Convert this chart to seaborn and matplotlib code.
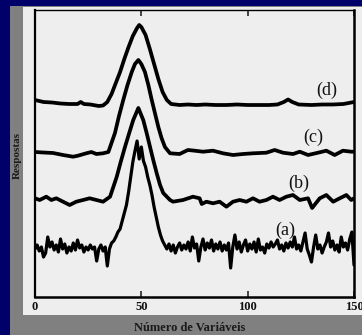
import numpy as np
import pandas as pd
import matplotlib
matplotlib.use("Agg")
import matplotlib.pyplot as plt
from matplotlib.patches import Rectangle
import seaborn as sns

# ---- data (responses, stacked with vertical offsets) ----
x_d = [0, 4, 8, 12, 16, 20, 21.5, 23, 26, 30, 32, 34, 36, 38, 40, 42, 44, 46, 48, 49, 50,
       52, 54, 56, 58, 60, 62, 64, 68, 72, 76, 80, 85, 90, 95, 100, 105, 110, 114, 117,
       119, 121, 124, 130, 135, 140, 145, 150]
y_d = [197, 195, 194.5, 193.5, 193, 193, 195, 193, 192.5, 191, 191.5, 195, 203, 214, 225,
       238, 250, 261, 269, 272, 270, 262, 248, 233, 218, 205, 197, 193, 192, 192.5, 192,
       192.5, 192, 192, 192.5, 192, 192, 192, 192.5, 195, 197.5, 195, 192.5, 192, 192.5,
       192.5, 193, 195]

x_c = [0, 3.8, 8.5, 13.2, 17.9, 20.2, 24.1, 26.5, 28.9, 32, 34.5, 37.6, 39.5, 41.5, 43.5,
       45.5, 47, 48.6, 50, 51.7, 53.3, 54.9, 56.5, 58, 59.5, 61.1, 63.5, 68, 71.9, 75.1,
       79, 83.7, 88.4, 93.1, 97.8, 102.5, 108.8, 112.7, 116.6, 121.3, 124.5, 128.4, 133.1,
       137, 140.9, 144.8, 148.7, 150]
y_c = [145, 144.5, 144, 142, 140.3, 141.3, 143.7, 145, 143, 143.7, 145, 164, 181, 197, 212,
       225, 233, 237, 233, 225, 212, 197, 183, 170, 159, 150, 143.7, 143, 147, 146.3,
       145.3, 146.3, 143.7, 142, 143, 143.7, 144.3, 147, 144.3, 143, 145.3, 142, 144.3,
       146.3, 142, 146.3, 145.3, 145.3]

x_b = [0, 2.2, 5.3, 7.7, 10, 13.2, 16.3, 19.4, 22.6, 25.7, 28.9, 32, 35.3, 38.4, 40.3, 42.3,
       44.3, 46.2, 48.6, 50.9, 52.5, 54.1, 55.6, 57.2, 58.8, 60.3, 63.5, 64.9, 69.6, 74.3,
       77.4, 78.4, 80.6, 83.7, 86.8, 90, 93.1, 96.2, 99.4, 102.5, 105.6, 108.8, 111.9, 115,
       118.2, 121.3, 124.5, 128.4, 130.3, 133.9, 137, 140.2, 143.3, 146.4, 148.7, 150]
y_b = [98.7, 97, 100.3, 97, 98.7, 95.3, 92, 95.3, 97, 98.7, 97, 95.3, 100.3, 120, 135, 150,
       164, 177, 189, 177, 164, 150, 137, 124, 112, 104, 97, 95.3, 97, 100.3, 98.7, 93,
       95.3, 93.7, 95.3, 90.3, 95.3, 97, 95.3, 98.7, 95.3, 97, 100.3, 97, 100.3, 102, 97,
       98.7, 89, 98.7, 102, 95.3, 98.7, 102, 97, 98.7]

x_a = list(range(0, 151))
y_a = [48, 52, 46, 50, 40, 44, 60, 50, 55, 47, 52, 45, 58, 48, 53, 44, 50, 46, 54, 47,
       57, 49, 52, 45, 50, 47, 52, 48, 50, 36, 48, 52, 46, 50, 31, 48, 54, 56, 60, 65,
       68, 76, 84, 92, 105, 120, 135, 146, 156, 138, 150, 136, 130, 120, 112, 102, 90, 80,
       70, 62, 56, 52, 48, 53, 46, 52, 44, 50, 54, 47, 52, 48, 55, 46, 60, 49, 53, 36,
       50, 58, 47, 54, 49, 57, 46, 53, 48, 55, 46, 52, 47, 54, 29, 50, 62, 48, 55, 45,
       52, 57, 46, 53, 48, 55, 45, 58, 47, 50, 44, 53, 49, 55, 50, 53, 57, 48, 52, 46,
       54, 49, 55, 50, 60, 48, 52, 46, 55, 64, 48, 42, 35, 50, 62, 48, 52, 44, 50, 55,
       64, 50, 56, 47, 52, 45, 60, 50, 54, 47, 58, 65, 32]

curve_labels = ["(a)", "(b)", "(c)", "(d)"]
label_x = [117.5, 123.8, 130.8, 137.1]
label_y = [67, 114, 160, 207]
x_ticks = [0, 50, 100, 150]
x_label = "Número de Variáveis"
y_label = "Respostas"

# ---- figure ----
sns.set_style("white")
plt.rcParams["font.family"] = ["Liberation Serif", "DejaVu Serif"]

W, H = 362, 335
fig = plt.figure(figsize=(W / 100, H / 100), dpi=100)
fig.patch.set_facecolor("#00006a")
# grey slide panel and the light scanned figure area
fig.add_artist(Rectangle((10 / W, 0), 352 / W, (H - 6) / H, transform=fig.transFigure,
                         facecolor="#808080", edgecolor="none", zorder=0))
fig.add_artist(Rectangle((23 / W, 20 / H), 339 / W, 308 / H, transform=fig.transFigure,
                         facecolor="#eeeeee", edgecolor="none", zorder=0))

ax = fig.add_axes([35 / W, 38 / H, 319 / W, 287 / H])
ax.set_facecolor("none")

series = [(x_a, y_a, 2.3), (x_b, y_b, 2.7), (x_c, y_c, 2.7), (x_d, y_d, 2.7)]
for xs, ys, lw in series:
    df = pd.DataFrame({"x": xs, "y": ys})
    sns.lineplot(data=df, x="x", y="y", ax=ax, color="black", linewidth=lw,
                 estimator=None, sort=False, solid_joinstyle="round")

for txt, tx, ty in zip(curve_labels, label_x, label_y):
    ax.text(tx, ty, txt, ha="center", va="center", fontsize=13, color="#111111")

ax.set_xlim(0, 150)
ax.set_ylim(0, 287)
ax.set_xticks(x_ticks)
ax.set_xticklabels([str(t) for t in x_ticks], fontsize=9, fontweight="bold", color="#111111")
ax.set_yticks([])
ax.tick_params(axis="x", direction="in", top=True, bottom=True, length=4, width=1.2, pad=3)
ax.set_xlabel("")
ax.set_ylabel("")
for side, lw in [("left", 1.6), ("right", 1.8), ("bottom", 1.8), ("top", 1.0)]:
    ax.spines[side].set_visible(True)
    ax.spines[side].set_color("black")
    ax.spines[side].set_linewidth(lw)

fig.text(190 / W, 1 - 328 / H, x_label, ha="center", va="center", fontsize=9,
         fontweight="bold", color="#1a1a1a")
fig.text(17 / W, 1 - 156 / H, y_label, ha="center", va="center", rotation=90,
         fontsize=8, fontweight="bold", color="#1a1a1a")

fig.savefig("out.png", dpi=100, facecolor=fig.get_facecolor())
